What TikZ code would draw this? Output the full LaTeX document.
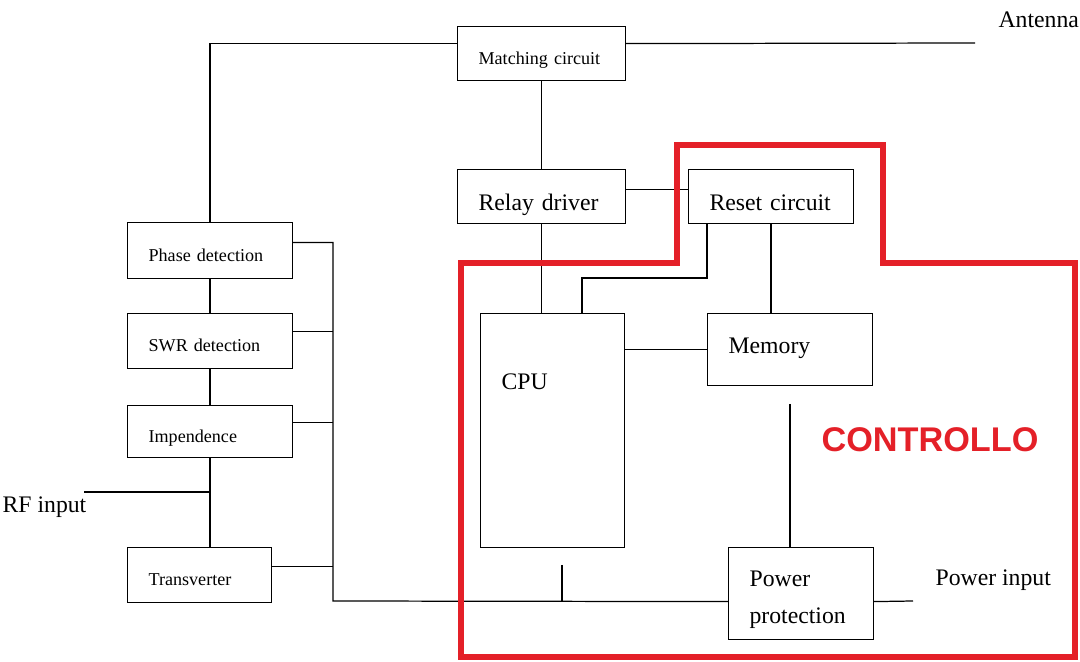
\documentclass[tikz,border=0pt]{standalone}
\usepackage{fontspec}
\setmainfont{Liberation Serif}
\newfontfamily\ctrlfont{Liberation Sans}
\usetikzlibrary{positioning,calc}
\definecolor{ctrlred}{RGB}{228,32,40}
\begin{document}
\begin{tikzpicture}[x=0.02cm, y=-0.02cm, line width=0.7pt,
					block/.style={rectangle, draw=black, anchor=north west, inner xsep=0.42cm, inner ysep=0pt, align=left},
					smallblock/.style={block, font=\fontsize{10.3}{12}\selectfont, text height=0.42cm, text depth=0pt},
					bigblock/.style={block, font=\fontsize{13.5}{16}\selectfont},
					note/.style={rectangle, inner sep=0pt, font=\fontsize{13.5}{16}\selectfont}
				]
				\useasboundingbox (0,0) rectangle (1080,662);
				\node[smallblock, text width=2.52cm, minimum height=1.08cm] (matchcircuit) at (457,26) {Matching circuit};
				\node[bigblock, text width=2.52cm, minimum height=1.08cm, text height=0.56cm, text depth=0pt] (relaydriver) at (457,169) {Relay driver};
				\node[bigblock, text width=2.46cm, minimum height=1.08cm, text height=0.56cm, text depth=0pt] (resetcircuit) at (688,169) {Reset circuit};
				\node[smallblock, text width=2.46cm, minimum height=1.12cm] (phasedet) at (127,222) {Phase detection};
				\node[smallblock, text width=2.46cm, minimum height=1.1cm] (swrdet) at (127,313) {SWR detection};
				\node[smallblock, text width=2.46cm, minimum height=1.04cm] (impendence) at (127,405) {Impendence};
				\node[smallblock, text width=2.04cm, minimum height=1.1cm] (transverter) at (127,547) {Transverter};
				\node[bigblock, text width=2.04cm, minimum height=4.68cm, text height=0.3cm, text depth=1.94cm] (cpu) at (480,313) {CPU};
				\node[bigblock, text width=2.46cm, minimum height=1.44cm, text height=0.3cm, text depth=0.15cm] (memory) at (707,313) {Memory};
				\node[bigblock, text width=2.06cm, minimum height=1.84cm, text height=0.4cm, text depth=0.68cm, font=\fontsize{13.5}{21}\selectfont] (powerprot) at (728,547) {Power\\protection};
				\node[note, anchor=base west] (antenna) at (998,28) {Antenna};
				\node[note, anchor=base west] (rfinput) at (2,513) {RF input};
				\node[note, anchor=base west] (powerinput) at (935,586) {Power input};
				\node[font=\ctrlfont\bfseries\fontsize{19.5}{22}\selectfont, text=ctrlred] (controllo) at (930,440) {CONTROLLO};
				\coordinate (antennaend) at (975,43);
				\coordinate (resetbend) at (582,278);
				\coordinate (memorygap) at (790,404);
				\coordinate (powerend) at (913,601);
				\coordinate (busbottom) at (333,601);
				\coordinate (rfstart) at (84,492);
				\coordinate (cputick) at (562,565);
				\draw ([yshift=0.2cm]matchcircuit.west) -| (phasedet.north);
				\draw ([yshift=0.2cm]matchcircuit.east) -- (antennaend);
				\draw (matchcircuit.south) -- (relaydriver.north);
				\draw (relaydriver.south) -- (relaydriver.south |- cpu.north);
				\draw ([yshift=0.14cm]relaydriver.east) -- ([yshift=0.14cm]resetcircuit.west);
				\draw ([xshift=0.38cm]resetcircuit.south west) |- (resetbend) -- (resetbend |- cpu.north);
				\draw (resetcircuit.south) -- (resetcircuit.south |- memory.north);
				\draw (memory.west) -- (memory.west -| cpu.east);
				\draw (memorygap) -- (memorygap |- powerprot.north);
				\draw ([yshift=-0.16cm]powerprot.east) -- (powerend);
				\draw ([yshift=0.16cm]phasedet.east) -| (busbottom) -- ([yshift=-0.16cm]powerprot.west);
				\draw ([yshift=0.19cm]swrdet.east) -- ([yshift=0.19cm]swrdet.east -| busbottom);
				\draw ([yshift=0.18cm]impendence.east) -- ([yshift=0.18cm]impendence.east -| busbottom);
				\draw ([yshift=0.17cm]transverter.east) -- ([yshift=0.17cm]transverter.east -| busbottom);
				\draw (phasedet.south) -- (swrdet.north);
				\draw (swrdet.south) -- (impendence.north);
				\draw (impendence.south) -- (impendence.south |- transverter.north);
				\draw (rfstart) -- (rfstart -| impendence.south);
				\draw (cputick) -- (cputick |- busbottom);
				\begin{scope}[draw=ctrlred, line width=3pt, line join=miter]
				\draw (461,657) -- (461,263) -- (677,263) -- (677,145) -- (883,145) -- (883,263) -- (1075,263) -- (1075,657) -- cycle;
				\end{scope}
				\end{tikzpicture}
\end{document}
